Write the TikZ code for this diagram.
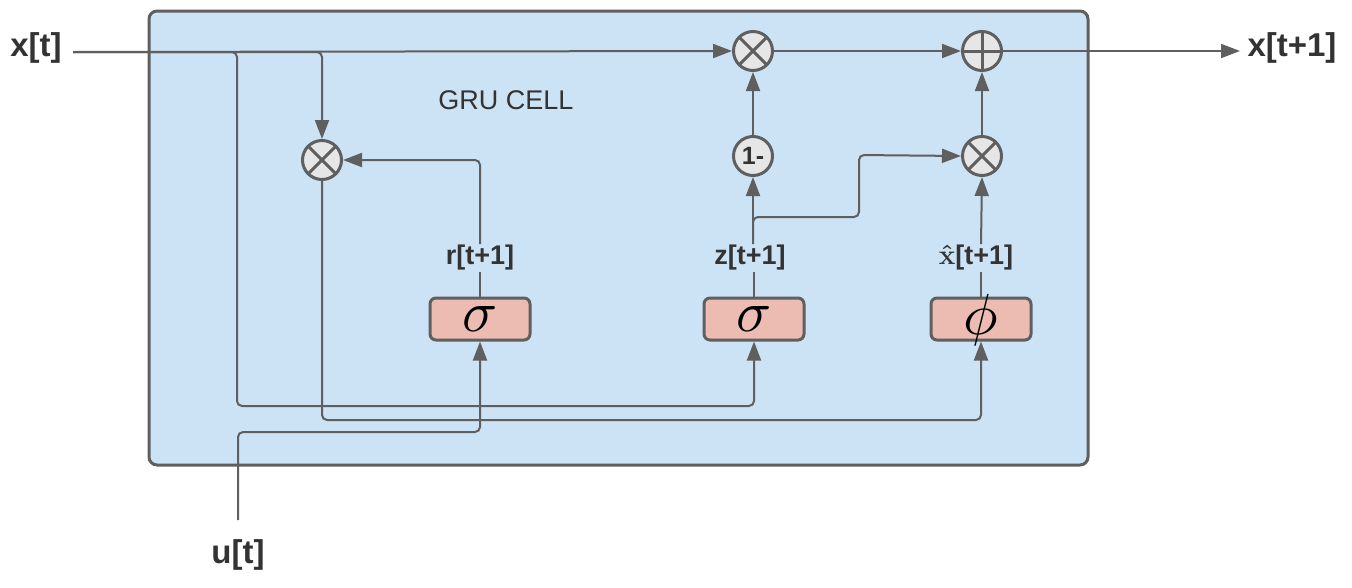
\documentclass[tikz,border=0pt]{standalone}
\usepackage{fontspec}
\setmainfont{Liberation Sans}
\usetikzlibrary{arrows.meta}
\definecolor{gr}{HTML}{5F5F5F}
\definecolor{cellfill}{HTML}{CCE2F5}
\definecolor{actfill}{HTML}{ECBCB2}
\definecolor{opfill}{HTML}{E6E6E6}
\definecolor{txt}{HTML}{333333}
\newcommand{\bigsym}[2]{\smash{\raisebox{#2}{\scalebox{5.8}{$#1$}}}}
\begin{document}
\begin{tikzpicture}[x=1pt,y=-1pt,
  conn/.style={draw=gr, line width=2pt, rounded corners=5pt},
  arr/.style={conn, -{Triangle[length=19pt,width=14pt]}},
  io/.style={text=txt, font=\fontsize{33}{36}\selectfont\bfseries, inner sep=0pt},
  lab/.style={text=txt, font=\fontsize{27}{29}\selectfont\bfseries, inner sep=1pt, fill=cellfill},
  actbox/.style={draw=gr, fill=actfill, line width=3pt, rounded corners=6pt, minimum width=100pt, minimum height=42pt, inner sep=0pt},
  opcirc/.style={circle, draw=gr, fill=opfill, line width=3pt, minimum size=39pt, inner sep=0pt},
  times/.style={opcirc, path picture={\draw[gr, line width=3pt]
     (path picture bounding box.north west) -- (path picture bounding box.south east)
     (path picture bounding box.north east) -- (path picture bounding box.south west);}},
  plus/.style={opcirc, path picture={\draw[gr, line width=3pt]
     (path picture bounding box.north) -- (path picture bounding box.south)
     (path picture bounding box.east) -- (path picture bounding box.west);}}
]
\useasboundingbox (0,0) rectangle (1352,587);
% cell
\draw[gr, fill=cellfill, line width=3pt, rounded corners=8pt] (149,11) rectangle (1088,465);
\node[text=txt, font=\fontsize{27}{29}\selectfont] (title) at (506,100) {GRU CELL};

% io labels
\node[io] (xt) at (36,48) {x[t]};
\node[io] (xt1) at (1292,48) {x[t+1]};
\node[io] (ut) at (238,555) {u[t]};
\coordinate (xin) at (73,52);
\coordinate (uin) at (238,520);

% operators
\node[times] (m1) at (322,160) {};
\node[times] (m2) at (753,51) {};
\node[plus] (add) at (982,51) {};
\node[times] (m3) at (982,156) {};
\node[opcirc, text=txt, font=\fontsize{25}{27}\selectfont\bfseries] (om) at (753,156) {1-};

% activations
\node[actbox] (sr) at (480,319) {\bigsym{\sigma}{-12pt}};
\node[actbox] (sz) at (754,319) {\bigsym{\sigma}{-12pt}};
\node[actbox] (sp) at (981,319) {\bigsym{\phi}{-15pt}};

% gate labels
\node[lab] (lr) at (480,258) {r[t+1]};
\node[lab] (lz) at (750,258) {z[t+1]};
\node[lab] (lh) at (976,258) {\scalebox{1.12}{\boldmath$\hat{\mathbf{x}}$}[t+1]};

% connectors
\draw[arr] (xin) -- (m2.west);
\draw[arr] (xin) -- (322,52) -- (m1.north);
\draw[arr] (xin) -- (237,52) -- (237,406) -- (754,406) -- (sz.south);
\draw[arr] (m1.south) -- (322,420) -- (981,420) -- (sp.south);
\draw[arr] (uin) -- (238,432) -- (480,432) -- (sr.south);

\draw[conn] (sr.north) -- (lr.south);
\draw[conn] (sz.north) -- (sz.north |- lz.south);
\draw[conn] (sp.north) -- (sp.north |- lh.south);

\draw[arr] (lr.north) |- (m1.east);
\draw[arr] (lz.north -| om.south) -- (om.south);
\draw[arr] (lz.north -| om.south) -- (753,217) -- (859,217) -- (859,155) -- (m3.west);
\draw[arr] (sp.north |- lh.north) -- (m3.south);

\draw[arr] (om.north) -- (m2.south);
\draw[arr] (m3.north) -- (add.south);
\draw[arr] (m2.east) -- (add.west);
\draw[arr] (add.east) -- (1240,51);
\end{tikzpicture}
\end{document}
